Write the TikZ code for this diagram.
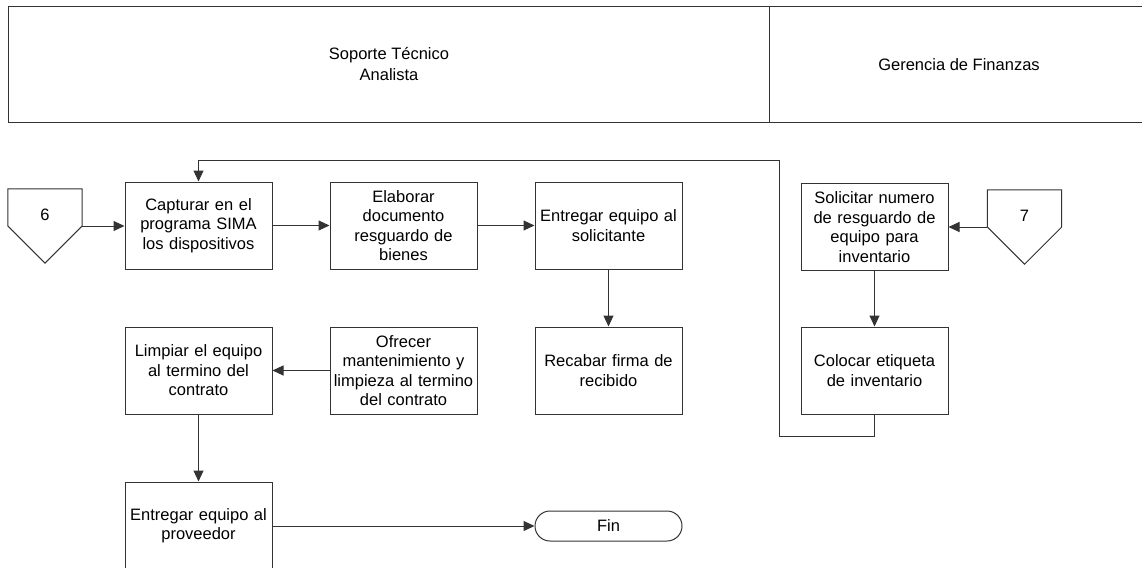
\documentclass[tikz,border=0pt]{standalone}
\usepackage{fontspec}
\setmainfont{Liberation Sans}
\usetikzlibrary{arrows.meta,calc}
\begin{document}
\begin{tikzpicture}[x=1pt,y=-1pt,
  every node/.style={font=\fontsize{16.5}{19.5}\selectfont},
  edge/.style={draw=black!80,line width=1pt},
  arr/.style={edge,-{Triangle[length=11pt,width=10pt]}},
  task/.style={edge,rectangle,minimum width=147pt,minimum height=87pt,
    text width=143pt,align=center,inner sep=0pt},
  term/.style={edge,rectangle,rounded corners=15pt,minimum width=147pt,
    minimum height=30pt,inner sep=0pt},
  offpage/.style={rectangle,minimum width=74pt,minimum height=74pt,inner sep=0pt},
  lane/.style={align=center,inner sep=0pt}]
\useasboundingbox (0,0) rectangle (1142,567);

% swimlane header
\draw[edge] (1150,7) -- (8.5,7) -- (8.5,123) -- (1150,123);
\draw[edge] (769,7) -- (769,123);
\node[lane] (laneA) at (389,64) {Soporte Técnico\\[1pt]Analista};
\node[lane] (laneB) at (959,65) {Gerencia de Finanzas};

% off-page connectors
\node[offpage] (c6) at (45,226) {};
\draw[edge] (c6.north west) -- (c6.north east) -- (c6.east) -- (c6.south)
  -- (c6.west) -- cycle;
\node (c6t) at ($(c6.center)+(0,-11)$) {6};
\node[offpage] (c7) at (1024.5,227) {};
\draw[edge] (c7.north west) -- (c7.north east) -- (c7.east) -- (c7.south)
  -- (c7.west) -- cycle;
\node (c7t) at ($(c7.center)+(0,-11)$) {7};

% process steps
\node[task] (cap) at (198.5,225.5) {Capturar en el\\programa SIMA\\los dispositivos};
\node[task] (ela) at (403.5,225.5) {Elaborar\\documento\\resguardo de\\bienes};
\node[task] (ent) at (608.5,225.5) {Entregar equipo al\\solicitante};
\node[task] (rec) at (608.5,370.5) {Recabar firma de\\recibido};
\node[task] (ofr) at (403.5,370.5) {Ofrecer\\mantenimiento y\\limpieza al termino\\del contrato};
\node[task] (lim) at (198.5,370.5) {Limpiar el equipo\\al termino del\\contrato};
\node[task] (prov) at (198.5,525.5) {Entregar equipo al\\proveedor};
\node[term] (fin) at (608.5,526) {Fin};
\node[task] (sol) at (874.5,227) {Solicitar numero\\de resguardo de\\equipo para\\inventario};
\node[task] (col) at (874.5,370.5) {Colocar etiqueta\\de inventario};

% connectors
\draw[arr] (c6.east) -- (cap.west |- c6.east);
\draw[arr] (cap) -- (ela);
\draw[arr] (ela) -- (ent);
\draw[arr] (ent) -- (rec);
\draw[arr] (ofr) -- (lim);
\draw[arr] (lim) -- (prov);
\draw[arr] (prov.east |- fin.west) -- (fin.west);
\draw[arr] (c7.west) -- (sol.east |- c7.west);
\draw[arr] (sol) -- (col);
\coordinate (loopB) at (779,436);
\coordinate (loopT) at (779,160);
\draw[arr] (col.south) |- (loopB) -- (loopT) -| (cap.north);
\end{tikzpicture}
\end{document}
